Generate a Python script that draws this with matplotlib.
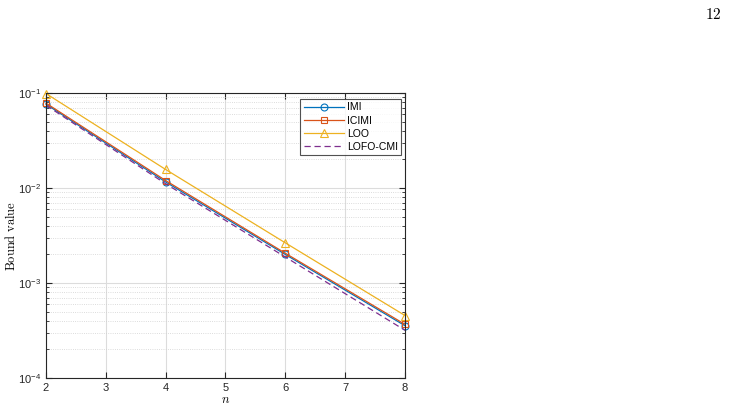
import matplotlib
matplotlib.use('Agg')
import matplotlib.pyplot as plt
from matplotlib.ticker import LogLocator, NullFormatter

plt.rcParams['font.family'] = ['Liberation Sans', 'DejaVu Sans']
plt.rcParams['mathtext.fontset'] = 'cm'

# Datos
n = [2, 4, 6, 8]
imi = [0.0765, 0.0116, 0.00200, 0.000355]
icimi = [0.0785, 0.0120, 0.00206, 0.000367]
loo = [0.0990, 0.0157, 0.00265, 0.000455]
lofo_cmi = [0.0745, 0.0111, 0.00188, 0.000318]

fig = plt.figure(figsize=(7.38, 4.12), dpi=100)
ax = fig.add_axes([0.0623, 0.0825, 0.4865, 0.6915])

ax.plot(n, imi, color='#0072BD', marker='o', mfc='none', ms=5, lw=0.9, mew=0.8, label='IMI', clip_on=False)
ax.plot(n, icimi, color='#D95319', marker='s', mfc='none', ms=5, lw=0.9, mew=0.8, label='ICIMI', clip_on=False)
ax.plot(n, loo, color='#EDB120', marker='^', mfc='none', ms=6, lw=0.9, mew=0.8, label='LOO', clip_on=False)
ax.plot(n, lofo_cmi, color='#7E2F8E', ls=(0, (5, 3)), lw=0.9, label='LOFO-CMI')

ax.set_yscale('log')
ax.set_xlim(2, 8)
ax.set_ylim(1e-4, 1e-1)
ax.set_xticks([2, 3, 4, 5, 6, 7, 8])
ax.yaxis.set_minor_locator(LogLocator(base=10, subs=range(2, 10)))
ax.yaxis.set_minor_formatter(NullFormatter())

ax.tick_params(which='both', direction='in', top=True, right=True, labelsize=8,
               color='#262626', labelcolor='#262626')
ax.tick_params(which='major', length=4)
ax.tick_params(which='minor', length=2)
ax.tick_params(axis='x', which='minor', bottom=False, top=False)

ax.grid(True, which='major', color='#dcdcdc', lw=0.8, ls='-')
ax.grid(True, which='minor', axis='y', color='#d0d0d0', lw=0.6, ls=':')
for s in ax.spines.values():
    s.set_color('#262626')
    s.set_linewidth(0.8)

ax.set_xlabel(r'$n$', fontsize=9, labelpad=1)
ax.set_ylabel(r'$\mathrm{Bound\ value}$', fontsize=9, labelpad=0)

leg = ax.legend(loc='upper right', bbox_to_anchor=(0.99, 0.98), fontsize=7.5, frameon=True,
                fancybox=False, edgecolor='#262626', handlelength=3.8, borderpad=0.35,
                labelspacing=0.3, handletextpad=0.3, borderaxespad=0)
leg.get_frame().set_linewidth(0.8)

fig.text(0.978, 0.966, r'$\mathrm{12}$', fontsize=11, ha='right', va='center')

fig.savefig('out.png', dpi=100)
